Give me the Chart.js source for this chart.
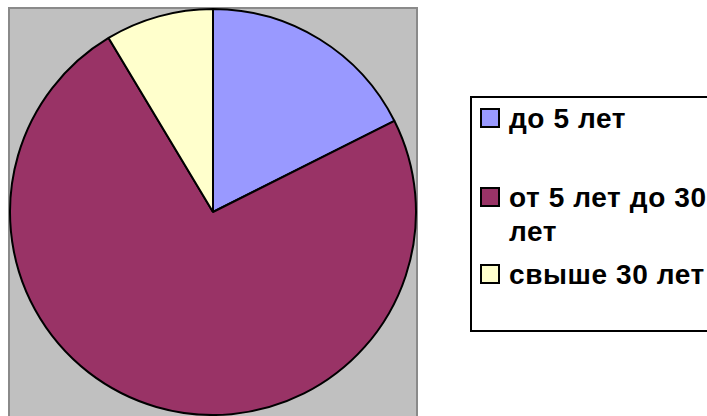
<!DOCTYPE html>
<html>
<head>
<meta charset="utf-8">
<script src="https://cdn.jsdelivr.net/npm/chart.js@4/dist/chart.umd.min.js"></script>
<style>
    html, body { margin: 0; padding: 0; background: #fff; }
    #wrap { position: relative; width: 707px; height: 416px; overflow: hidden; }
    #pieChart { position: absolute; left: 0; top: 0; }
    #legend {
        position: absolute; left: 470px; top: 96px; width: 250px; height: 232px;
        border: 2px solid #000; background: #fff;
        font-family: "Liberation Sans", Arial, sans-serif; font-weight: bold;
        font-size: 28px; letter-spacing: 0.6px;
    }
    .item { position: absolute; left: 8px; width: 232px; line-height: 34px; padding-left: 29px; }
    .box { position: absolute; left: 0; top: 6px; width: 16px; height: 16px; border: 2px solid #000; }
</style>
</head>
<body>
<div id="wrap">
    <canvas id="pieChart" width="707" height="416"></canvas>
    <div id="legend"></div>
</div>
<script>
// Pie: share of items by age group
const labels = ['до 5 лет', 'от 5 лет до 30 лет', 'свыше 30 лет'];
const values = [17.6, 73.8, 8.6];
const colors = ['#9999FF', '#993366', '#FFFFCC'];

// gray plot area behind the pie
const plotArea = {
    id: 'plotArea',
    beforeDraw(chart) {
        const ctx = chart.ctx;
        ctx.save();
        ctx.fillStyle = '#C0C0C0';
        ctx.fillRect(9, 8, 408, 420);
        ctx.strokeStyle = '#8A8A8A';
        ctx.lineWidth = 2;
        ctx.strokeRect(9, 8, 408, 420);
        ctx.restore();
    }
};

const chart = new Chart(document.getElementById('pieChart'), {
    type: 'pie',
    data: {
        labels: labels,
        datasets: [{
            data: values,
            backgroundColor: colors,
            borderColor: '#000',
            borderWidth: 2
        }]
    },
    options: {
        responsive: false,
        animation: false,
        layout: { padding: { left: 9, top: 8, right: 290, bottom: 0 } },
        plugins: {
            legend: { display: false },
            tooltip: { enabled: false }
        }
    },
    plugins: [plotArea]
});

// legend built from the same labels/colors
const legend = document.getElementById('legend');
const tops = [4, 83, 160];
labels.forEach((label, i) => {
    const item = document.createElement('div');
    item.className = 'item';
    item.style.top = tops[i] + 'px';
    item.innerHTML = `<span class="box" style="background:${colors[i]}"></span>${label}`;
    legend.appendChild(item);
});
</script>
</body>
</html>
